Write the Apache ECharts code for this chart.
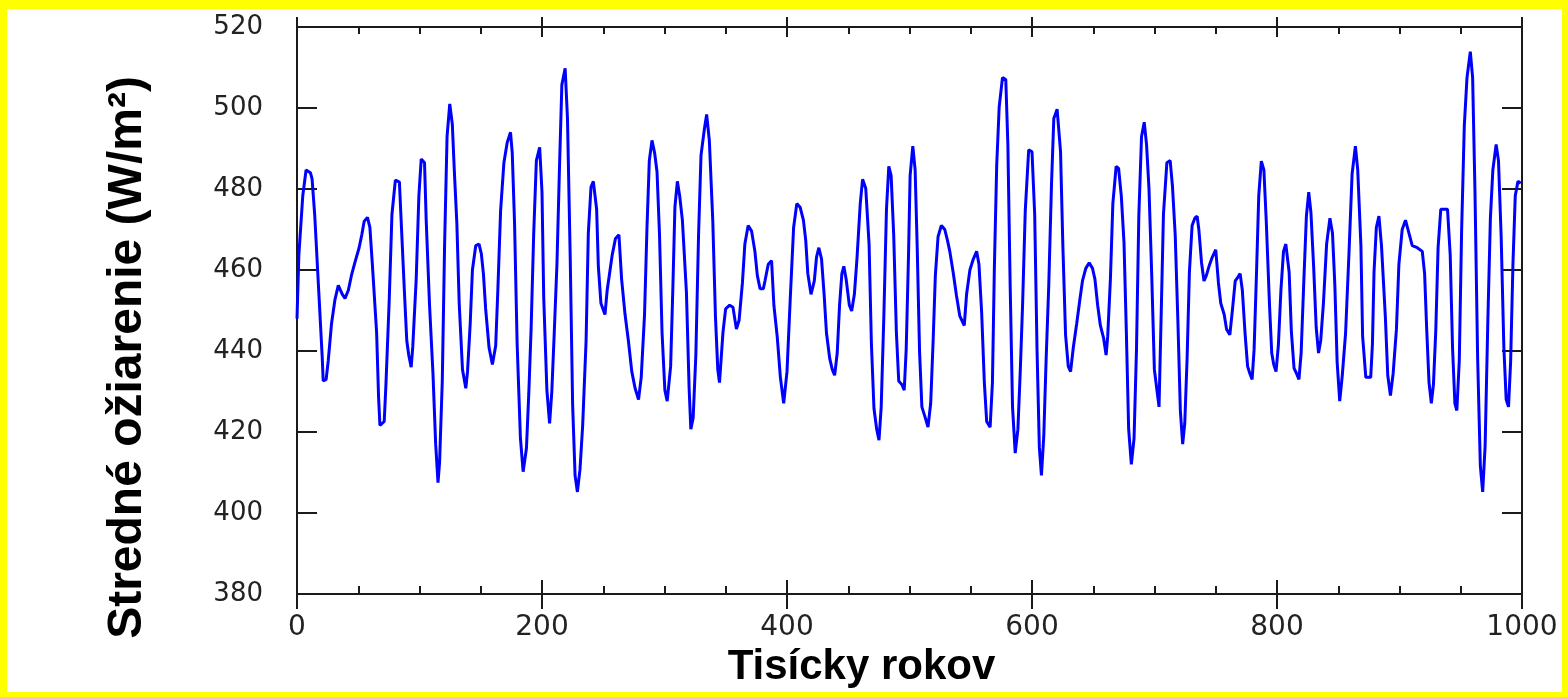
<!DOCTYPE html>
<html>
<head>
<meta charset="utf-8">
<title>Stredné ožiarenie</title>
<script src="https://cdn.jsdelivr.net/npm/echarts@6/dist/echarts.min.js"></script>
<style>
  html, body { margin: 0; padding: 0; background: #fff; }
  #chart { width: 1568px; height: 697px; }
</style>
</head>
<body>
<div id="chart"></div>
<script>
// tisícky rokov (vrcholy krivky odčítané z obrázka)
const tisicky = [
  0, 1.5, 4.7, 7.4, 11, 12.3, 14.5, 17.8, 20.5, 21.4, 23.8, 25.5, 28.2, 31, 33.7, 37, 39.2, 41.9, 44.7, 47.4,
  50.7, 52.9, 54.8, 57.5, 59.5, 61.6, 65, 66.6, 67.7, 71.2, 72.6, 75.3, 77.5, 80.3, 83.6, 84.9, 87.7, 89.6, 91.2, 93.2,
  94.5, 97.3, 99.5, 101.4, 104.1, 105.5, 108.2, 111, 113.2, 115.1, 116.4, 118.6, 120.5, 122.5, 124.7, 126.8,
  128.4, 130.5, 132.4, 135.1, 137.8, 139.2, 141.4, 143.2, 145.9, 148.6, 150.5, 152.2, 154, 156.8, 159.5, 162.2, 164,
  166.2, 168.9, 171.6, 174.3, 175.7, 177.6, 179.7, 182.4, 184.6, 187.3, 189.2, 191.1, 193.2, 195.4, 198.1, 200,
  201.4, 204, 206.2, 208, 210, 212.2, 214.3, 216.2, 218.9, 220.8, 223, 225, 227, 228.9, 231, 233.2, 236, 237.8,
  240, 241.9, 244.6, 246, 248.1, 251.4, 253.2,
  254, 257.3, 260, 262.8, 265, 267.8, 270.5, 273.3, 276, 278.8, 281, 283.7, 285.7, 287.6, 289.8, 292, 293.9, 295.9,
  298, 300.3, 302.2, 305, 306.9, 308.5, 310.5, 312.4, 314.6, 317.9, 320.1, 321.5, 323.4, 325.6, 327.8, 329.8, 332.5,
  334.4, 336.6, 339.4, 341.6, 343.5, 344.9, 347.7, 349.9, 353.2, 355.9, 358.7, 360.9, 363.6, 365.6, 368.3, 371.1,
  373.8, 375.8, 378, 380.7,
  382, 384.7, 387.4, 389.3, 392, 394.6, 397.3, 400, 402.7, 405.4, 408, 410.7, 413.4, 415.3, 417, 419.6, 422.3, 424.1,
  426, 428.2, 430.3, 432.2, 434.9, 437, 438.9, 441, 442.9, 444.8, 446.4, 448.3, 450.9, 452.8, 455, 457.1, 459.8,
  461.7, 464.3, 467, 468.9, 471, 473.2, 475.1, 476.9, 479.1, 481.2, 483.1, 485, 487.1, 489.3, 491.2, 493.8, 495.7,
  497.3, 499.2, 500.5, 502.7, 504.6,
  506.3, 508.2, 510.1, 512.9, 515.1, 517.3, 519.2, 521.1, 523.3, 526, 528.8, 531, 532.9, 535.6, 538.4, 541.1, 544.7,
  546.6, 549.3, 552.1, 554.8, 556.7, 558.9, 561.1, 563, 565.8, 567.7, 569.3, 571.2, 573.2, 575.9, 578.6, 580.3,
  582.2, 584.1, 586.3, 588.5, 590.4, 592.3, 594.5, 597.3, 600, 602.2, 604.1, 606, 607.7, 609.6, 611.5, 613.7, 615.9,
  617.8, 620.5, 623.3, 625.2, 627.4, 629.6, 631.5,
  633.7, 636.5, 639.3, 641.2, 643.9, 646.7, 649.4, 651.4, 653.6, 655.8, 658.5, 660.5, 661.8, 664, 666, 668.7, 670.7,
  672.9, 675.1, 677, 678.9, 681.1, 683.3, 685.3, 687.2, 689.4, 691.6, 693.5, 695.5, 697.7, 699.9, 701.8, 703.7,
  705.4, 707.3, 710.1, 712.8, 714.7, 716.9, 719.1, 721.1, 723, 724.7, 726.6, 728.5, 730.7, 732.9, 734.8, 736.2,
  738.4, 740.4, 742.3, 744.5, 747.2, 750, 752.2, 754.1, 756.9, 758.8, 761.5,
  763.7, 765.9, 768, 769.9, 771.7, 773.9, 776, 777.9, 779.7, 781.3, 783.2, 785.1, 787.2, 789.3, 791.2, 793.9, 795.7,
  797.3, 799.2, 801.1, 803.2, 805.3, 807.2, 809.9, 811.7, 813.9, 816, 817.9, 819.7, 821.9, 824, 825.9, 827.7, 829.9,
  832, 833.9, 835.7, 837.9, 840.5, 843.2, 845.3, 847.2, 849.1, 851.2, 853.3, 856, 858.7, 861.3, 864, 865.9, 868.5,
  869.9, 872.5, 876.5, 877.9, 879.2, 881.1, 883.2, 885.3,
  888.5, 890.4, 892.6, 894.8, 897.5, 899.5, 902.2, 904.9, 907.7, 910.4, 914.5, 918.6, 920.5, 922.2, 924.1, 926,
  927.7, 929.6, 931.5, 933.7, 939.2, 941.4, 943.3, 945.2, 946.8, 948.8, 950.7, 952.9, 955.1, 957.8, 959.7, 961.6,
  963.8, 966, 967.9, 969.9, 972.1, 974.2, 976.2, 978.9, 980.8, 983, 985.2, 987.1, 989, 990.7, 992.6, 994.5, 996.7, 999
];

// stredné ožiarenie (W/m2)
const ozarenie = [
  448, 463.6, 478.3, 484.7, 484, 482.5, 473.4, 454.5, 439, 432.6, 433, 437.6, 446.8, 452.7, 456.2, 454, 453, 455, 459, 462,
  465.5, 468.7, 472, 473, 470.5, 461, 444.5, 428.5, 421.6, 422.6, 431.7, 452.7, 473.7, 482.2, 481.7, 473, 454.5, 442.6, 439, 436,
  441, 457.7, 478.4, 487.4, 486.5, 472, 451.3, 434.4, 417, 407.5, 412.5, 432.6, 466.4, 493, 501, 496,
  484.7, 471.5, 451.8, 435.4, 430.8, 434.9, 446.8, 460, 466, 466.4, 464, 459, 450.4, 440.8, 436.7, 441.3, 455.4,
  474.6, 486.5, 491.5, 494, 489, 471.5, 441.8, 418.4, 410.2, 416, 429.4, 445.4, 468.7, 487, 490.3, 479.2,
  453.2, 430.3, 422.1, 429.9, 444.5, 461.4, 485.6, 505.7, 509.8, 497.4, 463.7, 426.8, 409.3, 405.2, 410.7, 421.6, 442.6, 469,
  480.5, 481.9, 475, 460.9, 451.8, 449, 455,
  455, 463.7, 467.8, 468.7, 457.7, 449, 442.6, 434.9, 430.8, 428, 433.5, 449, 470.5, 487, 492, 488.8, 484.2, 469,
  444.5, 430.3, 427.6, 436.2, 456.4, 475.5, 481.9, 478.3, 472.3, 454.5, 430.8, 420.7, 423.5, 439, 468.7, 488.3, 494.7,
  498.4, 492, 472.3, 448.5, 435.4, 432.2, 444.5, 450.4, 451.3, 450.8, 445.4, 447.6, 456.8, 466.4, 471, 469.6,
  464.6, 458.6, 455.4, 455.4,
  457.3, 461.4, 462.3, 451.3, 443.6, 433.5, 427.1, 434.9, 453.2, 470.5, 476.4, 475.5, 472.3, 467.3, 459.1, 454, 457.3, 463.2,
  465.5, 462.7, 454, 444.5, 438.1, 435.4, 434, 439.5, 451.3, 459.1, 460.9, 457.7, 451.3, 449.9, 454, 462.7, 476.4,
  482.4, 480.1, 466.4, 441.8, 425.8, 420.7, 418, 426.2, 449, 475, 485.6, 483.3, 468.7, 444.5, 432.6, 431.7, 430.3,
  440.4, 463.7, 483.3, 490.6, 484.7,
  465.5, 439.9, 426.2, 423.5, 421.2, 427.1, 441.8, 458.6, 468.2, 471, 470, 467.3, 464.6, 459.5, 453.6, 448.6, 446.3,
  454, 460, 462.7, 464.6, 461.4, 449.5, 432.2, 422.6, 421.2, 432.2, 460.9, 486, 500.2, 507.5, 507, 491,
  455.9, 426.2, 414.8, 420.7, 434.9, 451.3, 474.6, 489.7, 489.2, 473.7, 440.4, 416.2, 409.3, 418.9, 437.6, 456.4, 481,
  497.4, 499.7, 489.2, 465.9, 444, 436.2, 434.9,
  440.8, 446.8, 453.2, 457.3, 460.4, 461.8, 460.4, 457.7, 451.3, 446.3, 443.1, 439, 443.6, 457.7, 476.4, 485.6, 485.1,
  478.3, 466.8, 444.9, 420.7, 412, 418.4, 440.4, 473.3, 492.9, 496.5, 491, 480.1, 459.1, 435.4, 430.8, 426.2,
  448.3, 473.7, 486.5, 487, 480.5, 468.7, 447.3, 425.3, 417, 422.1, 438.1, 459.5, 471, 472.8, 473.3, 470,
  461.8, 457.3, 458.6, 460.9, 463.2, 465, 456.8, 451.8, 449, 445.4, 444,
  450.4, 457.3, 458.2, 459.1, 455, 444.5, 436.2, 434.4, 433, 440.4, 458.6, 478.3, 486.9, 484.7, 472.3, 451.3, 439.5,
  436.7, 434.9, 441.3, 455, 464.6, 466.4, 459.5, 444.9, 435.8, 434.4, 433, 439.5, 457.3, 473.3, 479.2, 474.2, 460.9,
  445.8, 439.5, 442.6, 451.8, 466.4, 472.8, 469.1, 456.4, 437.2, 427.6, 434, 444.5, 463.7, 483.7, 490.6, 484.7, 466,
  443.6, 433.5, 433.5, 441.7, 459.5, 470.5, 473.3, 466,
  448.1, 434, 429, 434.4, 445.4, 461.4, 470, 472.3, 469.1, 466, 465.5, 464.6, 459.1, 445.4, 432.2, 427.1,
  431.7, 444.9, 465.5, 475, 475, 463.7, 440.8, 427.1, 425.3, 437.6, 469.6, 495.6, 507.5, 513.9, 507.5, 479.6,
  438.1, 411.6, 405.2, 416.6, 447.3, 472.8, 484.7, 491, 487, 468.2, 440.8, 428, 426.2, 437.2, 461.4, 478.3, 481.9, 481.4
];

const xMin = 0, xMax = 1000, xStep = 200;
const yMin = 380, yMax = 520, yStep = 20;

const krivka = tisicky.map((t, i) => [t, ozarenie[i]]);

const chart = echarts.init(document.getElementById('chart'));

const lineCol = '#1a1a1a';
const baseX = {
  type: 'value', min: xMin, max: xMax, interval: xStep,
  axisLine: { show: true, onZero: false, lineStyle: { color: lineCol, width: 2 } },
  splitLine: { show: false },
  axisLabel: { show: false }
};
const baseY = {
  type: 'value', min: yMin, max: yMax, interval: yStep,
  axisLine: { show: true, onZero: false, lineStyle: { color: lineCol, width: 2 } },
  splitLine: { show: false },
  axisLabel: { show: false }
};

chart.setOption({
  animation: false,
  backgroundColor: '#fff',
  grid: { left: 297, right: 46, top: 27, bottom: 103 },
  graphic: [
    { type: 'rect', shape: { x: 0, y: 0, width: 1568, height: 9 }, style: { fill: '#ffff00' } },
    { type: 'rect', shape: { x: 0, y: 0, width: 7, height: 697 }, style: { fill: '#ffff00' } },
    { type: 'rect', shape: { x: 0, y: 692, width: 1568, height: 5 }, style: { fill: '#ffff00' } },
    { type: 'rect', shape: { x: 1562, y: 0, width: 6, height: 697 }, style: { fill: '#ffff00' } }
  ],
  xAxis: [
    Object.assign({}, baseX, {
      position: 'bottom',
      axisTick: { show: true, inside: false, length: 15, lineStyle: { color: lineCol, width: 2 } },
      axisLabel: {
        show: true, margin: 20, fontSize: 28, color: '#222',
        fontFamily: 'DejaVu Sans',
        formatter: (v) => String(v)
      },
      name: 'Tisícky rokov',
      nameLocation: 'middle',
      nameGap: 46,
      nameTextStyle: {
        fontSize: 42, fontWeight: 'bold', color: '#000',
        fontFamily: 'Liberation Sans', padding: [0, 96, 0, 0]
      }
    }),
    Object.assign({}, baseX, {
      position: 'bottom',
      axisTick: { show: true, inside: true, length: 14, lineStyle: { color: lineCol, width: 2 } },
      minorTick: { show: true, splitNumber: 4, length: 8, lineStyle: { color: lineCol, width: 2 } }
    }),
    Object.assign({}, baseX, {
      position: 'top',
      axisTick: { show: true, inside: true, length: 10, lineStyle: { color: lineCol, width: 2 } },
      minorTick: { show: true, splitNumber: 4, length: 7, lineStyle: { color: lineCol, width: 2 } }
    }),
    Object.assign({}, baseX, {
      position: 'top',
      axisTick: { show: true, inside: false, length: 10, lineStyle: { color: lineCol, width: 2 } }
    })
  ],
  yAxis: [
    Object.assign({}, baseY, {
      position: 'left',
      axisTick: { show: true, inside: true, length: 20, lineStyle: { color: lineCol, width: 2 } },
      axisLabel: {
        show: true, margin: 34, fontSize: 26, color: '#222',
        fontFamily: 'DejaVu Sans'
      },
      name: 'Stredné ožiarenie (W/m²)',
      nameLocation: 'middle',
      nameGap: 145,
      nameTextStyle: {
        fontSize: 48, fontWeight: 'bold', color: '#000',
        fontFamily: 'Liberation Sans', padding: [0, 94, 0, 0]
      }
    }),
    Object.assign({}, baseY, {
      position: 'right',
      axisTick: { show: true, inside: true, length: 20, lineStyle: { color: lineCol, width: 2 } }
    })
  ],
  series: [
    {
      type: 'line',
      xAxisIndex: 0,
      yAxisIndex: 0,
      data: krivka,
      showSymbol: false,
      lineStyle: { color: '#0000ff', width: 3 }
    }
  ]
});
</script>
</body>
</html>
